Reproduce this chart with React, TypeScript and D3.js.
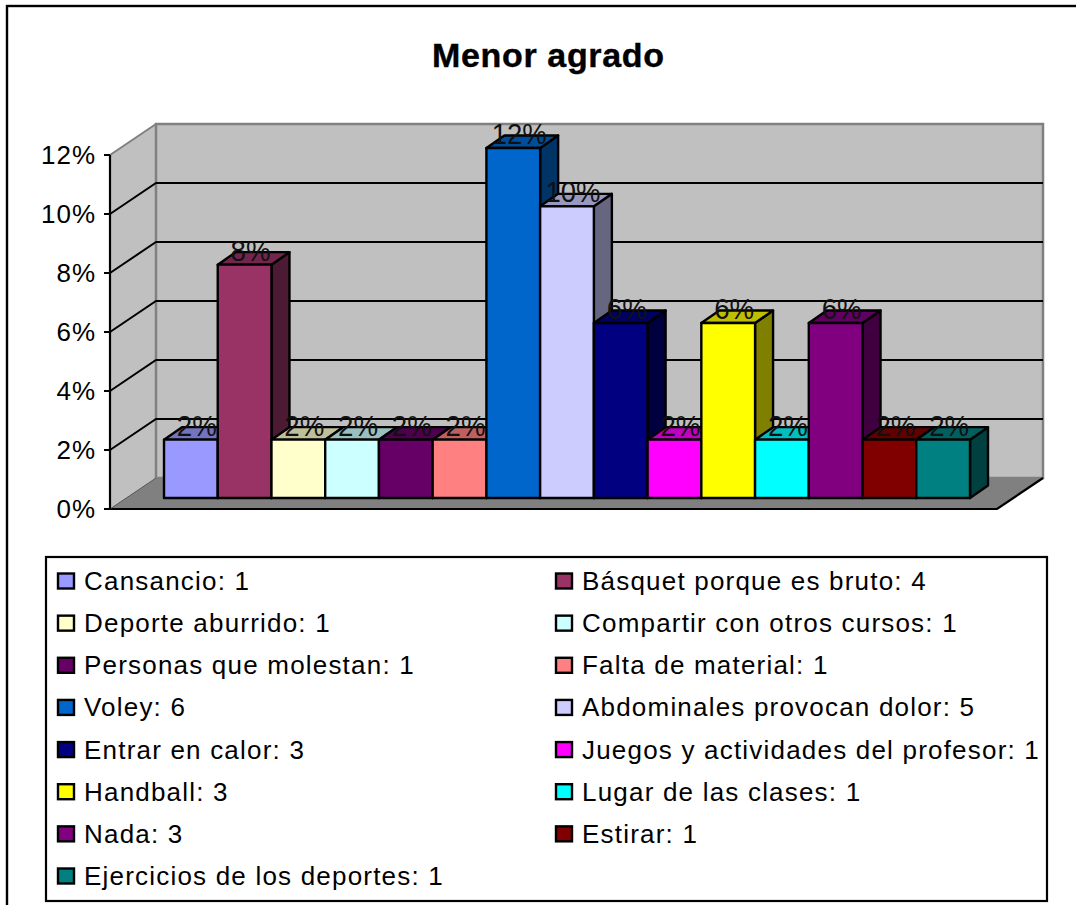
import React from "react";
import * as d3 from "d3";

const categories = ["Cansancio","Básquet porque es bruto","Deporte aburrido","Compartir con otros cursos","Personas que molestan","Falta de material","Voley","Abdominales provocan dolor","Entrar en calor","Juegos y actividades del profesor","Handball","Lugar de las clases","Nada","Estirar","Ejercicios de los deportes"];
const counts = [1,4,1,1,1,1,6,5,3,1,3,1,3,1,1];
const percents = [2,8,2,2,2,2,12,10,6,2,6,2,6,2,2];
const colors = ["#9999FF","#993366","#FFFFCC","#CCFFFF","#660066","#FF8080","#0066CC","#CCCCFF","#000080","#FF00FF","#FFFF00","#00FFFF","#800080","#800000","#008080"];
const yTicks = [0,2,4,6,8,10,12];
const title = "Menor agrado";

const FONT = "'Liberation Sans', Arial, sans-serif";
const dx = 46, dy = -31;        // wall depth
const barDx = 18, barDy = -12.5; // bar depth

export default function App() {
  const yFront = d3.scaleLinear().domain([0,12]).range([509,155]);
  const yBar = d3.scaleLinear().domain([0,12]).range([498,148]);
  const xBar = d3.scaleBand<number>().domain(d3.range(categories.length)).range([164,970]).padding(0);
  const xL = 110, xBack = xL + dx, xRight = 1043;
  const pts = (a: [number,number][]) => a.map(p => p.join(",")).join(" ");
  const legendRow = d3.scaleLinear().domain([0,7]).range([581,876]);
  const w = xBar.bandwidth();
  return (
    <svg width={1076} height={905} style={{position:"absolute",left:0,top:0,background:"#fff"}} fontFamily={FONT}>
      <rect x={7} y={6} width={1100} height={940} fill="#fff" stroke="#000" strokeWidth={2.4}/>
      <text x={548} y={67} textAnchor="middle" fontSize={34} fontWeight="bold" fill="#000" stroke="#000" strokeWidth={0.4} textLength={232} lengthAdjust="spacing">{title}</text>

      {/* walls */}
      <polygon points={pts([[xL,yFront(12)],[xBack,yFront(12)+dy],[xBack,yFront(0)+dy],[xL,yFront(0)]])} fill="#C0C0C0"/>
      <rect x={xBack} y={yFront(12)+dy} width={xRight-xBack} height={yFront(0)-yFront(12)} fill="#C0C0C0" stroke="#808080" strokeWidth={2.5}/>
      <polyline points={pts([[xL,yFront(12)],[xBack,yFront(12)+dy]])} fill="none" stroke="#808080" strokeWidth={2}/>
      <polygon points={pts([[xL,yFront(0)],[xBack,yFront(0)+dy],[xRight,yFront(0)+dy],[xRight+dx*-1,yFront(0)]])} fill="#808080"/>
      <polyline points={pts([[xL,yFront(0)],[xRight-dx,yFront(0)],[xRight,yFront(0)+dy]])} fill="none" stroke="#000" strokeWidth={2.2}/>
      <line x1={xL} x2={xBack} y1={yFront(0)} y2={yFront(0)+dy} stroke="#555" strokeWidth={1}/>

      {yTicks.filter(t => t>0 && t<12).map(t => (
        <polyline key={t} points={pts([[xL,yFront(t)],[xBack,yFront(t)+dy],[xRight,yFront(t)+dy]])} fill="none" stroke="#000" strokeWidth={2}/>
      ))}
      <line x1={xL} x2={xL} y1={yFront(12)} y2={yFront(0)} stroke="#000" strokeWidth={2.2}/>
      {yTicks.map(t => (
        <g key={t}>
          <line x1={xL-6} x2={xL} y1={yFront(t)} y2={yFront(t)} stroke="#000" strokeWidth={2}/>
          <text x={96} y={yFront(t)+9} textAnchor="end" fontSize={26} letterSpacing={1} fill="#000">{t}%</text>
        </g>
      ))}

      {/* bars */}
      {percents.map((v,i) => {
        const x0 = xBar(i)!, x1 = x0 + w, yT = yBar(v), yB = yBar(0);
        const c = d3.color(colors[i])!.rgb();
        return (
          <g key={i} stroke="#000" strokeWidth={2.4} strokeLinejoin="round">
            <polygon points={pts([[x1,yT],[x1+barDx,yT+barDy],[x1+barDx,yB+barDy],[x1,yB]])} fill={d3.rgb(c.r*.5,c.g*.5,c.b*.5).formatHex()}/>
            <polygon points={pts([[x0,yT],[x0+barDx,yT+barDy],[x1+barDx,yT+barDy],[x1,yT]])} fill={d3.rgb(c.r*.75,c.g*.75,c.b*.75).formatHex()}/>
            <rect x={x0} y={yT} width={w} height={yB-yT} fill={colors[i]}/>
          </g>
        );
      })}
      {percents.map((v,i) => (
        <text key={i} x={xBar(i)!+w/2+6} y={yBar(v)-4} textAnchor="middle" fontSize={29} fill="#111" textLength={v>=10?55:40} lengthAdjust="spacingAndGlyphs">{v}%</text>
      ))}

      {/* legend */}
      <rect x={46} y={557} width={1001} height={344} fill="#fff" stroke="#000" strokeWidth={2.2}/>
      {categories.map((c,i) => {
        const col = i%2, row = Math.floor(i/2);
        const sx = col ? 556 : 58, ty = legendRow(row);
        return (
          <g key={i}>
            <rect x={sx} y={ty-7.5} width={16} height={15} fill={colors[i]} stroke="#000" strokeWidth={2.4}/>
            <text x={col?582:84} y={ty+9} fontSize={26} letterSpacing={1.2} fill="#000">{c}: {counts[i]}</text>
          </g>
        );
      })}
    </svg>
  );
}
